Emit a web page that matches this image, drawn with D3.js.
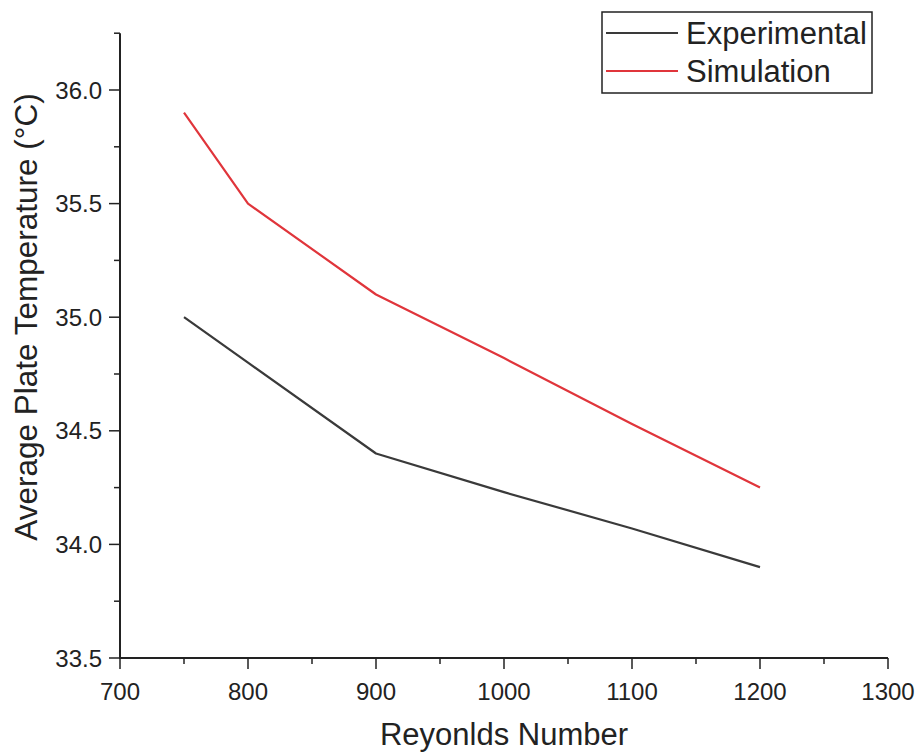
<!DOCTYPE html>
<html>
<head>
<meta charset="utf-8">
<script src="https://cdn.jsdelivr.net/npm/d3@7"></script>
<style>
  body { margin: 0; background: #fff; }
  text { font-family: Arial, "Liberation Sans", sans-serif; fill: #222; }
</style>
</head>
<body>
<svg id="chart" width="920" height="754"></svg>
<script>
// data
const reynolds = [750, 800, 900, 1000, 1100, 1200];
const experimental = [35.0, 34.8, 34.4, 34.23, 34.07, 33.9];
const simulation = [35.9, 35.5, 35.1, 34.82, 34.53, 34.25];
const seriesNames = ["Experimental", "Simulation"];
const seriesColors = ["#3a3a3a", "#e0353b"];
const xTicks = [700, 800, 900, 1000, 1100, 1200, 1300];
const yTicks = [33.5, 34.0, 34.5, 35.0, 35.5, 36.0];

const svg = d3.select("#chart");

const x = d3.scaleLinear().domain([700, 1300]).range([120, 888]);
const y = d3.scaleLinear().domain([33.5, 36.0]).range([658, 90]);

// y axis
const yAxis = svg.append("g").attr("transform", "translate(120,0)");
yAxis.append("line")
  .attr("x1", 0).attr("x2", 0)
  .attr("y1", y(36.25)).attr("y2", y(33.5) + 1)
  .attr("stroke", "#222").attr("stroke-width", 2);
yAxis.selectAll(".minor")
  .data(d3.range(33.75, 36.3, 0.5))
  .join("line")
  .attr("x1", -6).attr("x2", 0)
  .attr("y1", d => y(d)).attr("y2", d => y(d))
  .attr("stroke", "#222").attr("stroke-width", 1.5);
yAxis.selectAll(".major")
  .data(yTicks)
  .join("line")
  .attr("x1", -11).attr("x2", 0)
  .attr("y1", d => y(d)).attr("y2", d => y(d))
  .attr("stroke", "#222").attr("stroke-width", 1.5);
yAxis.selectAll("text")
  .data(yTicks)
  .join("text")
  .attr("x", -18).attr("y", d => y(d))
  .attr("dy", "0.36em")
  .attr("text-anchor", "end")
  .attr("font-size", 24)
  .text(d => d3.format(".1f")(d));

// x axis
const xAxis = svg.append("g").attr("transform", "translate(0,658)");
xAxis.append("line")
  .attr("x1", x(700) - 1).attr("x2", x(1300))
  .attr("y1", 0).attr("y2", 0)
  .attr("stroke", "#222").attr("stroke-width", 2);
xAxis.selectAll(".minor")
  .data(d3.range(750, 1300, 100))
  .join("line")
  .attr("x1", d => x(d)).attr("x2", d => x(d))
  .attr("y1", 0).attr("y2", 6)
  .attr("stroke", "#222").attr("stroke-width", 1.5);
xAxis.selectAll(".major")
  .data(xTicks)
  .join("line")
  .attr("x1", d => x(d)).attr("x2", d => x(d))
  .attr("y1", 0).attr("y2", 11)
  .attr("stroke", "#222").attr("stroke-width", 1.5);
xAxis.selectAll("text")
  .data(xTicks)
  .join("text")
  .attr("x", d => x(d)).attr("y", 42)
  .attr("text-anchor", "middle")
  .attr("font-size", 24)
  .text(d => d);

// axis titles
svg.append("text")
  .attr("x", 504).attr("y", 745)
  .attr("text-anchor", "middle")
  .attr("font-size", 31)
  .text("Reyonlds Number");

svg.append("text")
  .attr("transform", "translate(37,317) rotate(-90)")
  .attr("text-anchor", "middle")
  .attr("font-size", 31.5)
  .text("Average Plate Temperature (°C)");

// lines
const line = d3.line()
  .x(d => x(d[0]))
  .y(d => y(d[1]));

[experimental, simulation].forEach((vals, k) => {
  svg.append("path")
    .datum(reynolds.map((r, i) => [r, vals[i]]))
    .attr("fill", "none")
    .attr("stroke", seriesColors[k])
    .attr("stroke-width", 2.2)
    .attr("stroke-linejoin", "round")
    .attr("d", line);
});

// legend
const legend = svg.append("g");
legend.append("rect")
  .attr("x", 602).attr("y", 12)
  .attr("width", 270).attr("height", 81)
  .attr("fill", "#fff")
  .attr("stroke", "#222").attr("stroke-width", 1.5);
seriesNames.forEach((name, k) => {
  const ly = 33 + k * 38;
  legend.append("line")
    .attr("x1", 606).attr("x2", 678)
    .attr("y1", ly).attr("y2", ly)
    .attr("stroke", seriesColors[k]).attr("stroke-width", 2.2);
  legend.append("text")
    .attr("x", 686).attr("y", ly)
    .attr("dy", "0.36em")
    .attr("font-size", 31)
    .text(name);
});
</script>
</body>
</html>
